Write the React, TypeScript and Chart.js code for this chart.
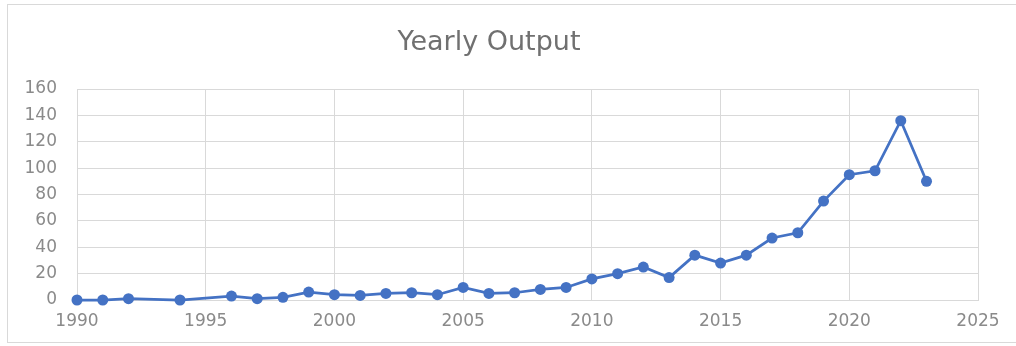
import React, { useEffect, useRef } from "react";
import { Chart, registerables } from "chart.js";

Chart.register(...registerables);

const chartTitle = "Yearly Output";
const years = [1990, 1991, 1992, 1994, 1996, 1997, 1998, 1999, 2000, 2001, 2002, 2003, 2004, 2005, 2006, 2007, 2008, 2009, 2010, 2011, 2012, 2013, 2014, 2015, 2016, 2017, 2018, 2019, 2020, 2021, 2022, 2023];
const outputValues = [0, 0, 1, 0, 3, 1, 2, 6, 4, 3.5, 5, 5.5, 4, 9.5, 5, 5.5, 8, 9.5, 16, 20, 25, 17, 34, 28, 34, 47, 51, 75, 95, 98, 136, 90];
const xMin = 1990;
const xMax = 2025;
const xStep = 5;
const yMin = 0;
const yMax = 160;
const yStep = 20;

export default function App() {
  const canvasRef = useRef<HTMLCanvasElement | null>(null);

  useEffect(() => {
    document.body.style.margin = "0";
    const canvas = canvasRef.current;
    if (!canvas) return;
    const points = years.map((yr, i) => ({ x: yr, y: outputValues[i] }));
    const gridColor = "#d9d9d9";
    const tickColor = "#8a8a8a";
    const tickFont = { family: "'DejaVu Sans', sans-serif", size: 17 };
    const chart = new Chart(canvas, {
      type: "line",
      data: {
        datasets: [
          {
            label: "Output",
            data: points,
            borderColor: "#4472C4",
            backgroundColor: "#4472C4",
            borderWidth: 2.75,
            pointRadius: 5.5,
            pointBorderWidth: 0,
            pointBackgroundColor: "#4472C4",
            tension: 0,
            clip: false,
          },
        ],
      },
      options: {
        animation: false,
        responsive: false,
        maintainAspectRatio: false,
        layout: { padding: { left: 0, right: 38, top: 0, bottom: 0 } },
        plugins: {
          legend: { display: false },
          tooltip: { enabled: false },
          title: {
            display: true,
            text: chartTitle,
            color: "#707070",
            font: { family: "'DejaVu Sans', sans-serif", size: 27, weight: "normal" },
            padding: { top: 27, bottom: 29.6 },
          },
        },
        scales: {
          x: {
            type: "linear",
            min: xMin,
            max: xMax,
            ticks: {
              stepSize: xStep,
              color: tickColor,
              font: tickFont,
              padding: 11,
              maxRotation: 0,
              callback: (v: any) => String(v),
            },
            grid: { color: gridColor, lineWidth: 1, drawTicks: false },
            border: { color: gridColor },
            afterFit: (s: any) => {
              s.height = 46;
            },
          },
          y: {
            min: yMin,
            max: yMax,
            ticks: { stepSize: yStep, color: tickColor, font: tickFont, padding: 20 },
            grid: { color: gridColor, lineWidth: 1, drawTicks: false },
            border: { color: gridColor },
            afterFit: (s: any) => {
              s.width = 77;
            },
          },
        },
      },
    });
    return () => chart.destroy();
  }, []);

  return (
    <div style={{ position: "relative", width: 1016, height: 346, background: "#ffffff" }}>
      <canvas ref={canvasRef} width={1016} height={346} style={{ display: "block" }} />
      <div
        style={{
          position: "absolute",
          left: 7,
          top: 4,
          width: 1016,
          height: 339,
          borderTop: "1px solid #d9d9d9",
          borderLeft: "1px solid #d9d9d9",
          borderBottom: "1px solid #d9d9d9",
          boxSizing: "border-box",
          pointerEvents: "none",
        }}
      />
    </div>
  );
}
